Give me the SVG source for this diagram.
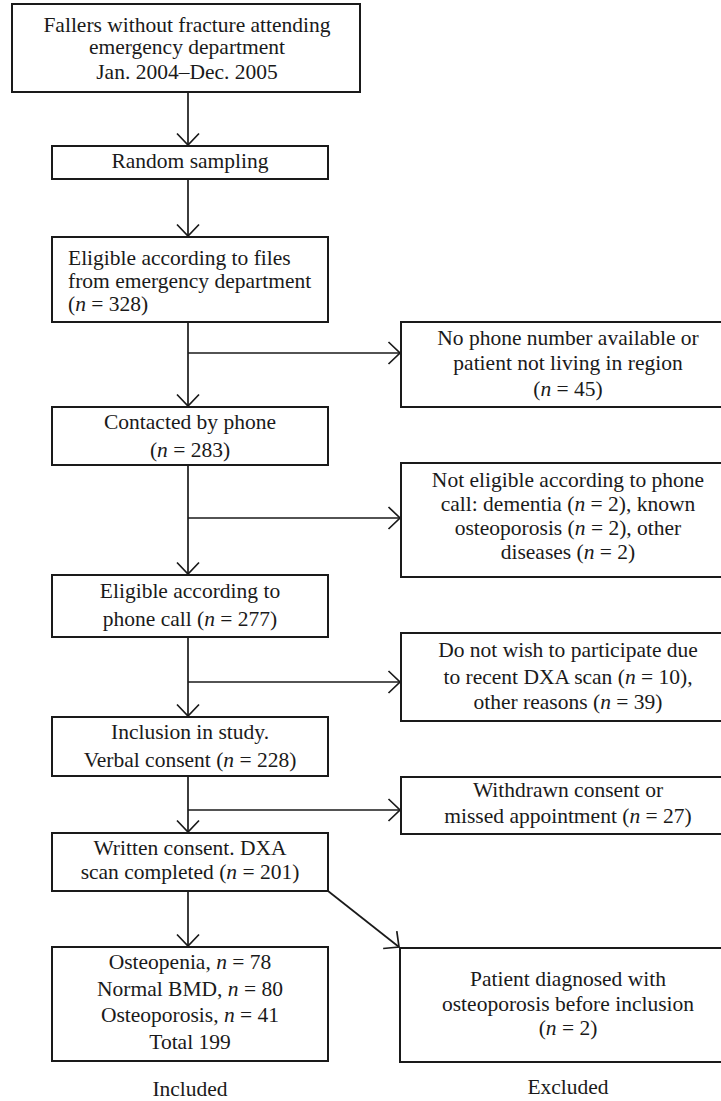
<svg xmlns="http://www.w3.org/2000/svg" width="721" height="1101" viewBox="0 0 721 1101">
<style>
  .box { fill: #ffffff; stroke: #1a1a1a; stroke-width: 2; }
  .conn { fill: none; stroke: #1a1a1a; stroke-width: 1.7; }
  text { font-family: "Liberation Serif", "Times New Roman", serif; font-size: 21.5px; fill: #1a1a1a; }
  .c { text-anchor: middle; }
  .i { font-style: italic; }
</style>
<defs>
  <marker id="arr" markerUnits="userSpaceOnUse" markerWidth="30" markerHeight="30" viewBox="-15 -15 30 30" refX="0" refY="0" orient="auto">
    <path d="M-11.5,-11 L0,0 L-11.5,11" fill="none" stroke="#1a1a1a" stroke-width="1.7"/>
  </marker>
</defs>
<rect width="721" height="1101" fill="#ffffff"/>

<g id="connectors">
  <line class="conn" x1="188" y1="92" x2="188" y2="145" marker-end="url(#arr)"/>
  <line class="conn" x1="188" y1="179" x2="188" y2="236" marker-end="url(#arr)"/>
  <line class="conn" x1="188" y1="322" x2="188" y2="406" marker-end="url(#arr)"/>
  <line class="conn" x1="188" y1="353" x2="400" y2="353" marker-end="url(#arr)"/>
  <line class="conn" x1="188" y1="465" x2="188" y2="574" marker-end="url(#arr)"/>
  <line class="conn" x1="188" y1="518" x2="400" y2="518" marker-end="url(#arr)"/>
  <line class="conn" x1="188" y1="637" x2="188" y2="716" marker-end="url(#arr)"/>
  <line class="conn" x1="188" y1="682" x2="400" y2="682" marker-end="url(#arr)"/>
  <line class="conn" x1="188" y1="776" x2="188" y2="832" marker-end="url(#arr)"/>
  <line class="conn" x1="188" y1="810" x2="400" y2="810" marker-end="url(#arr)"/>
  <line class="conn" x1="188" y1="891" x2="188" y2="946" marker-end="url(#arr)"/>
  <line class="conn" x1="328" y1="891" x2="399" y2="947" marker-end="url(#arr)"/>
</g>

<g id="n1">
  <rect class="box" x="12" y="4" width="348" height="88"/>
  <text class="c" x="187" y="32">Fallers without fracture attending</text>
  <text class="c" x="187" y="54">emergency department</text>
  <text class="c" x="187" y="79">Jan. 2004–Dec. 2005</text>
</g>
<g id="n2">
  <rect class="box" x="52" y="146" width="276" height="33"/>
  <text class="c" x="190" y="168">Random sampling</text>
</g>
<g id="n3">
  <rect class="box" x="52" y="237" width="276" height="85"/>
  <text x="68" y="265">Eligible according to files</text>
  <text x="68" y="288">from emergency department</text>
  <text x="68" y="311">(<tspan class="i">n</tspan> = 328)</text>
</g>
<g id="n4">
  <rect class="box" x="52" y="407" width="276" height="58"/>
  <text class="c" x="190" y="429">Contacted by phone</text>
  <text class="c" x="190" y="457">(<tspan class="i">n</tspan> = 283)</text>
</g>
<g id="n5">
  <rect class="box" x="52" y="575" width="276" height="62"/>
  <text class="c" x="190" y="598">Eligible according to</text>
  <text class="c" x="190" y="626">phone call (<tspan class="i">n</tspan> = 277)</text>
</g>
<g id="n6">
  <rect class="box" x="52" y="717" width="276" height="59"/>
  <text class="c" x="190" y="739">Inclusion in study.</text>
  <text class="c" x="190" y="767">Verbal consent (<tspan class="i">n</tspan> = 228)</text>
</g>
<g id="n7">
  <rect class="box" x="52" y="833" width="276" height="58"/>
  <text class="c" x="190" y="855">Written consent. DXA</text>
  <text class="c" x="190" y="879">scan completed (<tspan class="i">n</tspan> = 201)</text>
</g>
<g id="n8">
  <rect class="box" x="52" y="947" width="276" height="114"/>
  <text class="c" x="190" y="969">Osteopenia, <tspan class="i">n</tspan> = 78</text>
  <text class="c" x="190" y="996">Normal BMD, <tspan class="i">n</tspan> = 80</text>
  <text class="c" x="190" y="1022">Osteoporosis, <tspan class="i">n</tspan> = 41</text>
  <text class="c" x="190" y="1049">Total 199</text>
</g>
<g id="r1">
  <rect class="box" x="401" y="322" width="330" height="85"/>
  <text class="c" x="568" y="345">No phone number available or</text>
  <text class="c" x="568" y="370">patient not living in region</text>
  <text class="c" x="568" y="396">(<tspan class="i">n</tspan> = 45)</text>
</g>
<g id="r2">
  <rect class="box" x="401" y="463" width="330" height="114"/>
  <text class="c" x="568" y="487">Not eligible according to phone</text>
  <text class="c" x="568" y="511">call: dementia (<tspan class="i">n</tspan> = 2), known</text>
  <text class="c" x="568" y="535">osteoporosis (<tspan class="i">n</tspan> = 2), other</text>
  <text class="c" x="568" y="559">diseases (<tspan class="i">n</tspan> = 2)</text>
</g>
<g id="r3">
  <rect class="box" x="401" y="633" width="330" height="88"/>
  <text class="c" x="568" y="657">Do not wish to participate due</text>
  <text class="c" x="568" y="684">to recent DXA scan (<tspan class="i">n</tspan> = 10),</text>
  <text class="c" x="568" y="709">other reasons (<tspan class="i">n</tspan> = 39)</text>
</g>
<g id="r4">
  <rect class="box" x="401" y="777" width="330" height="57"/>
  <text class="c" x="568" y="797">Withdrawn consent or</text>
  <text class="c" x="568" y="823">missed appointment (<tspan class="i">n</tspan> = 27)</text>
</g>
<g id="r5">
  <rect class="box" x="400" y="948" width="331" height="114"/>
  <text class="c" x="568" y="986">Patient diagnosed with</text>
  <text class="c" x="568" y="1011">osteoporosis before inclusion</text>
  <text class="c" x="568" y="1035">(<tspan class="i">n</tspan> = 2)</text>
</g>
<g id="labels">
  <text class="c" x="190" y="1096">Included</text>
  <text class="c" x="568" y="1094">Excluded</text>
</g>
</svg>
